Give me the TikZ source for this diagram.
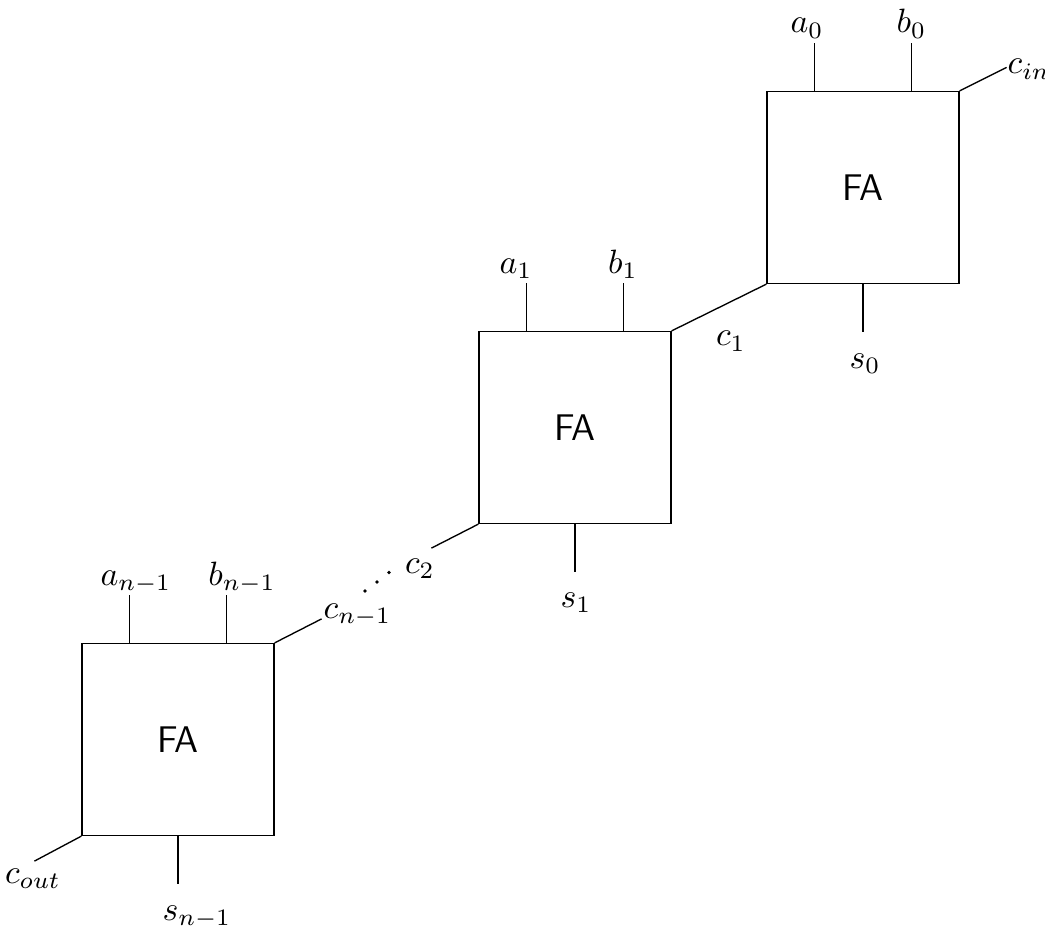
\documentclass[tikz,border=0pt]{standalone}
\usetikzlibrary{calc}
\begin{document}
\begin{tikzpicture}[x=0.0104167cm,y=-0.0104167cm,
  fa/.style={draw, line width=0.4pt, minimum size=2cm, inner sep=0pt, font=\sffamily\fontsize{11}{13}\selectfont},
  lbl/.style={anchor=base, inner sep=0pt},
  lblw/.style={anchor=base west, inner sep=0pt},
  wire/.style={line width=0.4pt},
  dotmark/.style={fill=black, draw=none}]
\useasboundingbox (0,0) rectangle (1045,927);

% full adder boxes
\node[fa] (FA0) at (863,187.5) {FA};
\node[fa] (FA1) at (575,427.5) {FA};
\node[fa] (FA2) at (178,739.5) {FA};

% ---- stage 0 ----
\coordinate (a0in) at ($(FA0.north west)!0.25!(FA0.north east)$);
\coordinate (b0in) at ($(FA0.north west)!0.75!(FA0.north east)$);
\coordinate (a0end) at ($(a0in)+(0,-48)$);
\coordinate (b0end) at ($(b0in)+(0,-48)$);
\coordinate (cinend) at ($(FA0.north east)+(47,-23.5)$);
\coordinate (s0end) at ($(FA0.south)+(0,48)$);
\draw[wire] (a0in) -- (a0end);
\draw[wire] (b0in) -- (b0end);
\draw[wire] (FA0.north east) -- (cinend);
\draw[wire] (FA0.south) -- (s0end);
\node[lbl] (la0) at (807,33) {$a_0$};
\node[lbl] (lb0) at (911.5,33) {$b_0$};
\node[lblw] (lcin) at (1007,74) {$c_{in}$};
\node[lbl] (ls0) at (865,368) {$s_0$};

% carry c1
\draw[wire] (FA1.north east) -- (FA0.south west);
\node[lbl] (lc1) at (731,346) {$c_1$};

% ---- stage 1 ----
\coordinate (a1in) at ($(FA1.north west)!0.25!(FA1.north east)$);
\coordinate (b1in) at ($(FA1.north west)!0.75!(FA1.north east)$);
\coordinate (a1end) at ($(a1in)+(0,-48)$);
\coordinate (b1end) at ($(b1in)+(0,-48)$);
\coordinate (s1end) at ($(FA1.south)+(0,48)$);
\coordinate (c2end) at ($(FA1.south west)+(-47,24)$);
\draw[wire] (a1in) -- (a1end);
\draw[wire] (b1in) -- (b1end);
\draw[wire] (FA1.south) -- (s1end);
\draw[wire] (FA1.south west) -- (c2end);
\node[lbl] (la1) at (516,273) {$a_1$};
\node[lbl] (lb1) at (623,273) {$b_1$};
\node[lbl] (ls1) at (576,607) {$s_1$};
\node[lbl] (lc2) at (420,573) {$c_2$};

% dots
\fill[dotmark] (365,591) circle (1.8);
\fill[dotmark] (377,582) circle (1.8);
\fill[dotmark] (389,572.5) circle (1.8);

% ---- stage n-1 ----
\coordinate (aNin) at ($(FA2.north west)!0.25!(FA2.north east)$);
\coordinate (bNin) at ($(FA2.north west)!0.75!(FA2.north east)$);
\coordinate (aNend) at ($(aNin)+(0,-48)$);
\coordinate (bNend) at ($(bNin)+(0,-48)$);
\coordinate (cNend) at ($(FA2.north east)+(47,-24)$);
\coordinate (coutend) at ($(FA2.south west)+(-47,25)$);
\coordinate (sNend) at ($(FA2.south)+(0,48)$);
\draw[wire] (aNin) -- (aNend);
\draw[wire] (bNin) -- (bNend);
\draw[wire] (FA2.north east) -- (cNend);
\draw[wire] (FA2.south west) -- (coutend);
\draw[wire] (FA2.south) -- (sNend);
\node[lbl] (laN) at (136,585) {$a_{n-1}$};
\node[lbl] (lbN) at (242,585) {$b_{n-1}$};
\node[lblw] (lcN) at (323,618) {$c_{n-1}$};
\node[lbl] (lcout) at (33,883) {$c_{out}$};
\node[lbl] (lsN) at (197,920) {$s_{n-1}$};
\end{tikzpicture}
\end{document}
